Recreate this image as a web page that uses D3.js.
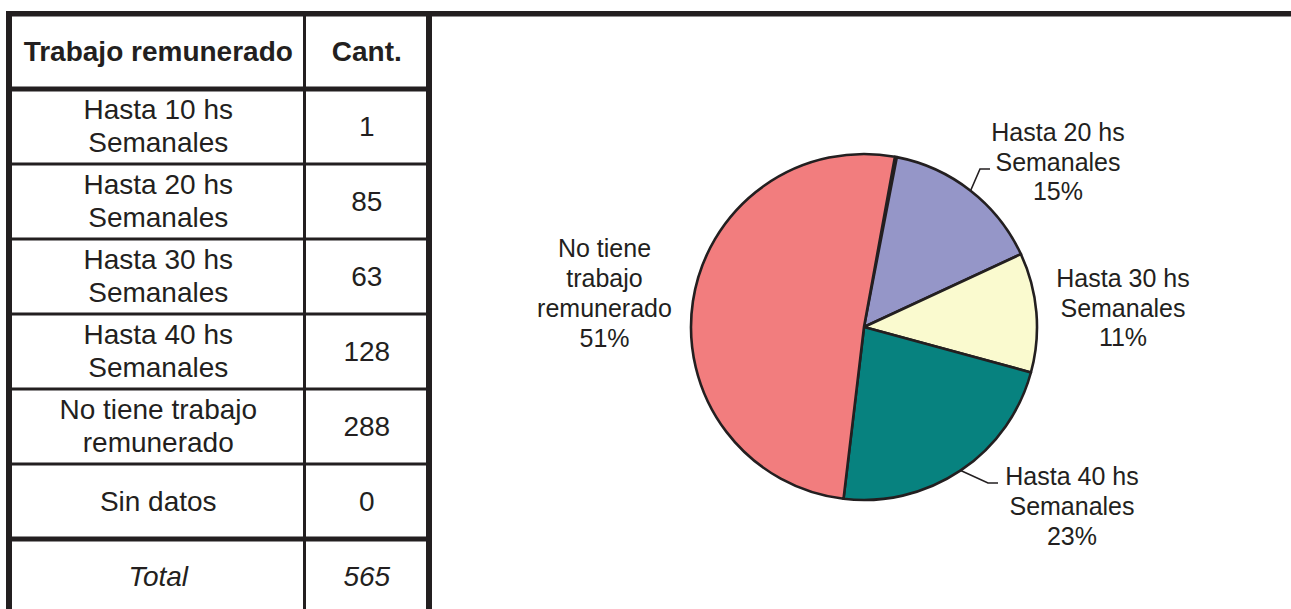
<!DOCTYPE html>
<html>
<head>
<meta charset="utf-8">
<script src="https://cdn.jsdelivr.net/npm/d3@7"></script>
<style>
	body { margin: 0; background: #fff; }
	svg { display: block; font-family: "Liberation Sans", Arial, sans-serif; }
	text { fill: #231f20; }
</style>
</head>
<body>
<div id="chart"></div>
<script>
/* Trabajo remunerado - tabla + torta */

var categories = ["Hasta 10 hs Semanales", "Hasta 20 hs Semanales", "Hasta 30 hs Semanales",
	"Hasta 40 hs Semanales", "No tiene trabajo remunerado", "Sin datos"];
var counts = [1, 85, 63, 128, 288, 0];
var tableLabels = [["Hasta 10 hs", "Semanales"], ["Hasta 20 hs", "Semanales"], ["Hasta 30 hs", "Semanales"],
	["Hasta 40 hs", "Semanales"], ["No tiene trabajo", "remunerado"], ["Sin datos"]];
var pieLabels = [null, ["Hasta 20 hs", "Semanales"], ["Hasta 30 hs", "Semanales"],
	["Hasta 40 hs", "Semanales"], ["No tiene", "trabajo", "remunerado"], null];
var headers = ["Trabajo remunerado", "Cant."];
var totalLabel = "Total";

(function() {
	var width = 1291, height = 609;
	var ink = "#231f20";
	var colors = ["#231f20", "#9596c8", "#fafacf", "#07827f", "#f27d7e", "#ffffff"];

	var svg = d3.select("#chart").append("svg")
		.attr("width", width)
		.attr("height", height);

	/* ------- TABLE ------- */
	var colX = [12, 304.5, 429];
	var rowY = d3.scaleLinear().domain([0, 1]).range([88.5, 163.5]); // row i top edge
	var headTop = 14;
	var total = d3.sum(counts);

	var lines = svg.append("g").attr("class", "lines");
	// top rule across the page
	lines.append("rect").attr("x", 6).attr("y", 11).attr("width", width - 6).attr("height", 5.5).attr("fill", ink);
	// verticals
	lines.append("rect").attr("x", 6).attr("y", 11).attr("width", 6).attr("height", height).attr("fill", ink);
	lines.append("rect").attr("x", colX[1] - 1.5).attr("y", 11).attr("width", 3).attr("height", height).attr("fill", ink);
	lines.append("rect").attr("x", colX[2] - 3).attr("y", 11).attr("width", 6).attr("height", height).attr("fill", ink);
	// horizontals
	var hRules = d3.range(categories.length + 1).map(function(i) {
		return { y: rowY(i), w: (i == 0 || i == categories.length) ? 5 : 3 };
	});
	lines.selectAll("rect.h").data(hRules).enter()
		.append("rect").attr("class", "h")
		.attr("x", 12).attr("width", colX[2] - 12)
		.attr("y", function(d) { return d.y - d.w / 2 + 0.5; })
		.attr("height", function(d) { return d.w; })
		.attr("fill", ink);

	var cx1 = (colX[0] + colX[1]) / 2, cx2 = (colX[1] + colX[2]) / 2;
	var fs = 28, lh = 33;

	// header
	svg.append("g").selectAll("text").data(headers).enter()
		.append("text")
		.attr("x", function(d, i) { return i == 0 ? cx1 : cx2; })
		.attr("y", (headTop + rowY(0)) / 2)
		.attr("dy", "0.35em")
		.attr("text-anchor", "middle")
		.attr("font-weight", "bold")
		.attr("font-size", fs)
		.text(function(d) { return d; });

	// body rows
	var rows = svg.append("g").selectAll("g.row").data(categories).enter()
		.append("g").attr("class", "row")
		.attr("transform", function(d, i) { return "translate(0," + (rowY(i) + rowY(i + 1)) / 2 + ")"; });
	rows.each(function(d, i) {
		var g = d3.select(this);
		var ls = tableLabels[i];
		g.selectAll("text.lab").data(ls).enter()
			.append("text").attr("class", "lab")
			.attr("x", cx1)
			.attr("y", function(t, j) { return (j - (ls.length - 1) / 2) * lh; })
			.attr("dy", "0.35em")
			.attr("text-anchor", "middle")
			.attr("font-size", fs)
			.text(function(t) { return t; });
		g.append("text")
			.attr("x", cx2).attr("y", 0).attr("dy", "0.35em")
			.attr("text-anchor", "middle")
			.attr("font-size", fs)
			.text(counts[i]);
	});

	// total row
	var ty = rowY(categories.length) + 37.5;
	svg.append("text").attr("x", cx1).attr("y", ty).attr("dy", "0.35em")
		.attr("text-anchor", "middle").attr("font-size", fs).attr("font-style", "italic")
		.text(totalLabel);
	svg.append("text").attr("x", cx2).attr("y", ty).attr("dy", "0.35em")
		.attr("text-anchor", "middle").attr("font-size", fs).attr("font-style", "italic")
		.text(total);

	/* ------- PIE ------- */
	var radius = 173;
	var start = 10.3 * Math.PI / 180;
	var pie = d3.pie().sort(null).value(function(d) { return d; })
		.startAngle(start).endAngle(start + 2 * Math.PI);
	var arc = d3.arc().innerRadius(0).outerRadius(radius);
	var edgeArc = d3.arc().innerRadius(radius).outerRadius(radius);

	var pg = svg.append("g").attr("transform", "translate(864,327)");
	var arcs = pie(counts);

	pg.selectAll("path.slice").data(arcs.filter(function(d) { return d.value > 0; })).enter()
		.append("path").attr("class", "slice")
		.attr("d", arc)
		.style("fill", function(d) { return colors[d.index]; })
		.style("stroke", ink)
		.style("stroke-width", 2.6)
		.style("stroke-linejoin", "round");

	/* ------- LABELS ------- */
	// label centre (first line) relative to pie centre, optional leader elbow
	var labelAt = {
		1: { x: 194, y: -195, elbow: [116, -158] },
		2: { x: 259, y: -49 },
		3: { x: 208, y: 149.5, elbow: [124, 156] },
		4: { x: -259.5, y: -78.5 }
	};
	var lsp = 29.8;
	arcs.forEach(function(d) {
		var lab = pieLabels[d.index];
		if (!lab) return;
		var pos = labelAt[d.index];
		var pct = Math.round(d.value / total * 100) + "%";
		var ls = lab.concat([pct]);
		pg.append("g").selectAll("text").data(ls).enter()
			.append("text")
			.attr("x", pos.x)
			.attr("y", function(t, j) { return pos.y + j * lsp; })
			.attr("dy", "0.35em")
			.attr("text-anchor", "middle")
			.attr("font-size", 25)
			.text(function(t) { return t; });
		if (pos.elbow) {
			var a = edgeArc.centroid(d);
			var b = pos.elbow;
			var c = [b[0] + 10, b[1]];
			pg.append("polyline")
				.attr("points", [a, b, c])
				.style("fill", "none")
				.style("stroke", ink)
				.style("stroke-width", 1.6);
		}
	});
})();
</script>
</body>
</html>
